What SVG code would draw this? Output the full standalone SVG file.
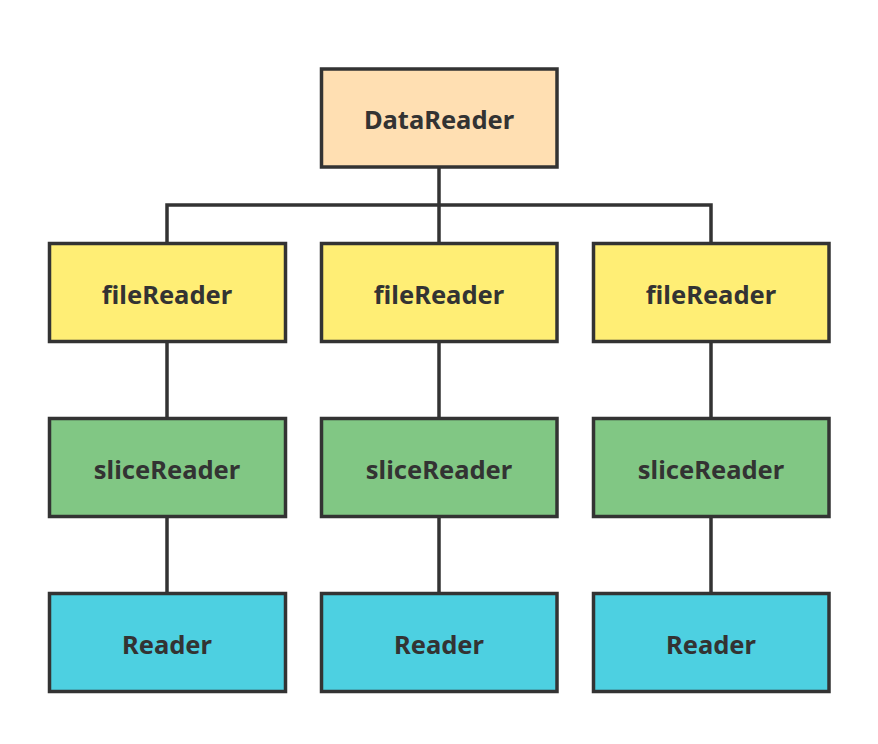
<svg xmlns="http://www.w3.org/2000/svg" width="878" height="744" viewBox="0 0 878 744">
<style>
.box{stroke:#333;stroke-width:3.5}
.t{font-family:"Noto Sans","Open Sans",sans-serif;font-weight:bold;font-size:25.5px;fill:#333;text-anchor:middle;dominant-baseline:central}
.root{fill:#FFDFB2}.file{fill:#FFEE75}.slice{fill:#81C784}.reader{fill:#4DD0E1}
.c{stroke:#333;stroke-width:3.5;fill:none}
</style>
<rect width="878" height="744" fill="#fff"/>
<g id="connectors">
<path class="c" d="M439 167V205M167 243V205H711V243M439 205V243"/>
<path class="c" d="M167 342V418M439 342V418M711 342V418"/>
<path class="c" d="M167 517V593M439 517V593M711 517V593"/>
</g>
<g id="dataReader"><rect class="box root" x="321.5" y="69" width="235.5" height="98"/><text class="t" x="439" y="119">DataReader</text></g>
<g id="fileReader1"><rect class="box file" x="49.5" y="243.5" width="236" height="98"/><text class="t" x="167" y="294">fileReader</text></g>
<g id="fileReader2"><rect class="box file" x="321.5" y="243.5" width="235.5" height="98"/><text class="t" x="439" y="294">fileReader</text></g>
<g id="fileReader3"><rect class="box file" x="593.5" y="243.5" width="235.5" height="98"/><text class="t" x="711" y="294">fileReader</text></g>
<g id="sliceReader1"><rect class="box slice" x="49.5" y="418.5" width="236" height="98"/><text class="t" x="167" y="469">sliceReader</text></g>
<g id="sliceReader2"><rect class="box slice" x="321.5" y="418.5" width="235.5" height="98"/><text class="t" x="439" y="469">sliceReader</text></g>
<g id="sliceReader3"><rect class="box slice" x="593.5" y="418.5" width="235.5" height="98"/><text class="t" x="711" y="469">sliceReader</text></g>
<g id="reader1"><rect class="box reader" x="49.5" y="593.5" width="236" height="98"/><text class="t" x="167" y="644">Reader</text></g>
<g id="reader2"><rect class="box reader" x="321.5" y="593.5" width="235.5" height="98"/><text class="t" x="439" y="644">Reader</text></g>
<g id="reader3"><rect class="box reader" x="593.5" y="593.5" width="235.5" height="98"/><text class="t" x="711" y="644">Reader</text></g>
</svg>
